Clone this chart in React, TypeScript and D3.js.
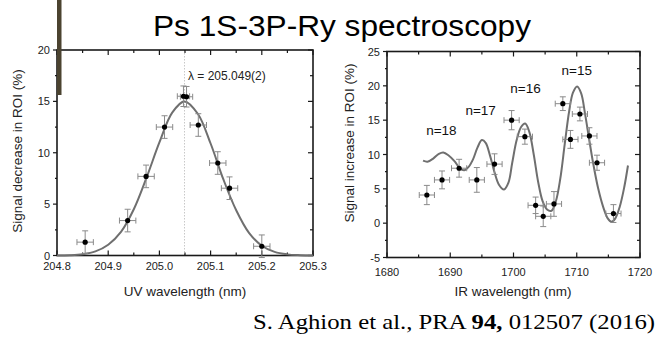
import React from "react";
import * as d3 from "d3";

// ---------- Left panel data (UV scan) ----------
const uvLambda = [204.855, 204.938, 204.974, 205.010, 205.047, 205.053, 205.076, 205.114, 205.137, 205.200];
const uvSignal = [1.3, 3.4, 7.7, 12.5, 15.5, 15.45, 12.7, 9.0, 6.55, 0.9];
const uvYErr = [1.1, 1.1, 1.1, 1.1, 1.0, 1.0, 1.1, 1.1, 1.1, 1.1];
const uvXErr = [0.016, 0.016, 0.016, 0.016, 0.012, 0.012, 0.016, 0.016, 0.016, 0.016];
const uvFitX = [204.8, 204.825, 204.85, 204.875, 204.9, 204.925, 204.95, 204.975, 205.0, 205.025, 205.049, 205.075, 205.1, 205.125, 205.15, 205.175, 205.2, 205.225, 205.25, 205.275, 205.3];
const uvFitY = [0.0, 0.03, 0.13, 0.4, 1.05, 2.3, 4.5, 7.6, 11.0, 13.9, 15.0, 13.8, 10.9, 7.4, 4.4, 2.2, 0.95, 0.35, 0.11, 0.03, 0.0];
const uvXTicks = [204.8, 204.9, 205.0, 205.1, 205.2, 205.3];
const uvYTicks = [0, 5, 10, 15, 20];
const uvCenter = 205.049;

// ---------- Right panel data (IR scan) ----------
const irLambda = [1686.3, 1688.7, 1691.4, 1694.2, 1697.0, 1699.7, 1701.8, 1703.5, 1704.7, 1706.4, 1707.8, 1709.0, 1710.5, 1712.0, 1713.2, 1715.8];
const irSignal = [4.1, 6.3, 8.0, 6.3, 8.6, 15.0, 12.6, 2.6, 1.0, 2.8, 17.4, 12.2, 15.9, 12.7, 8.8, 1.4];
const irYErr = [1.4, 1.3, 1.3, 1.8, 1.5, 1.4, 1.1, 1.2, 1.5, 1.8, 1.0, 1.3, 1.0, 1.2, 1.1, 1.3];
const irXErr = [1.2, 1.2, 1.2, 1.2, 1.2, 1.2, 1.2, 1.2, 1.2, 1.2, 1.2, 1.2, 1.2, 1.2, 1.2, 1.2];
const irFitX = [1685.7, 1686.4, 1687.3, 1688.2, 1688.9, 1689.7, 1690.7, 1691.5, 1692.2, 1692.9, 1693.6, 1694.3, 1695.0, 1695.6, 1696.3, 1697.0, 1697.7, 1698.5, 1699.2, 1699.8, 1700.5, 1701.2, 1701.85, 1702.5, 1703.2, 1703.9, 1704.6, 1705.3, 1706.0, 1706.7, 1707.4, 1708.1, 1708.8, 1709.4, 1710.06, 1710.7, 1711.3, 1712.0, 1712.6, 1713.4, 1714.2, 1714.9, 1715.5, 1716.1, 1716.8, 1717.5, 1718.1];
const irFitY = [9.1, 8.95, 9.4, 10.1, 10.3, 9.9, 9.0, 8.0, 7.7, 8.2, 9.3, 11.0, 12.1, 11.7, 9.8, 7.4, 5.6, 4.9, 5.9, 8.8, 12.1, 14.0, 14.5, 13.3, 10.0, 6.0, 3.2, 2.0, 1.8, 3.2, 6.5, 11.5, 16.3, 19.0, 19.9, 18.9, 16.0, 12.0, 8.7, 5.0, 2.3, 0.7, 0.2, 0.7, 2.4, 5.2, 8.4];
const irXTicks = [1680, 1690, 1700, 1710, 1720];
const irYTicks = [-5, 0, 5, 10, 15, 20, 25];
const nLabels = ["n=18", "n=17", "n=16", "n=15"];
const nLabelX = [1688.6, 1694.8, 1701.9, 1710.0];
const nLabelY = [12.8, 15.8, 18.9, 21.6];

const SANS = "'Liberation Sans', Arial, sans-serif";
const SERIF = "'Liberation Serif', 'Times New Roman', serif";

type PanelProps = {
  x: d3.ScaleLinear<number, number>;
  y: d3.ScaleLinear<number, number>;
  xTicks: number[];
  yTicks: number[];
  xMinor: number;
  yMinor: number;
  xFmt: (v: number) => string;
  xLabelOffset: number;
};

function Frame({ x, y, xTicks, yTicks, xMinor, yMinor, xFmt, xLabelOffset }: PanelProps) {
  const [x0, x1] = x.range();
  const [y0, y1] = y.range(); // y0 bottom, y1 top
  const [dx0, dx1] = x.domain();
  const [dy0, dy1] = y.domain();
  const xMinors = d3.range(dx0, dx1 + 1e-9, xMinor);
  const yMinors = d3.range(dy0, dy1 + 1e-9, yMinor);
  const isMajor = (v: number, ticks: number[]) => ticks.some((t) => Math.abs(t - v) < 1e-6);
  const col = "#1a1a1a";
  return (
    <g>
      {xMinors.map((v, i) => {
        const m = isMajor(v, xTicks);
        const L = m ? 5 : 3;
        return (
          <g key={"xt" + i} stroke={col} strokeWidth={1.2}>
            <line x1={x(v)} x2={x(v)} y1={y0} y2={y0 - L} />
            <line x1={x(v)} x2={x(v)} y1={y1} y2={y1 + L} />
          </g>
        );
      })}
      {yMinors.map((v, i) => {
        const m = isMajor(v, yTicks);
        const L = m ? 5 : 3;
        return (
          <g key={"yt" + i} stroke={col} strokeWidth={1.2}>
            <line x1={x0} x2={x0 - (m ? 4 : 2)} y1={y(v)} y2={y(v)} />
            <line x1={x1} x2={x1 - L} y1={y(v)} y2={y(v)} />
          </g>
        );
      })}
      <rect x={x0} y={y1} width={x1 - x0} height={y0 - y1} fill="none" stroke={col} strokeWidth={1.6} />
      {xTicks.map((v) => (
        <text key={"xl" + v} x={x(v)} y={y0 + xLabelOffset} fontSize={11} fontFamily={SANS} textAnchor="middle" fill="#222">
          {xFmt(v)}
        </text>
      ))}
      {yTicks.map((v) => (
        <text key={"yl" + v} x={x0 - 7} y={y(v) + 4} fontSize={11} fontFamily={SANS} textAnchor="end" fill="#222">
          {v}
        </text>
      ))}
    </g>
  );
}

function Points({ x, y, xs, ys, xe, ye }: { x: any; y: any; xs: number[]; ys: number[]; xe: number[]; ye: number[] }) {
  const cap = 3;
  return (
    <g>
      {xs.map((v, i) => {
        const cx = x(v);
        const cy = y(ys[i]);
        const xl = x(v - xe[i]);
        const xr = x(v + xe[i]);
        const yt = y(ys[i] + ye[i]);
        const yb = y(ys[i] - ye[i]);
        return (
          <g key={i} stroke="#8a8a8a" strokeWidth={1}>
            <line x1={cx} x2={cx} y1={yt} y2={yb} />
            <line x1={cx - cap} x2={cx + cap} y1={yt} y2={yt} />
            <line x1={cx - cap} x2={cx + cap} y1={yb} y2={yb} />
            <line x1={xl} x2={xr} y1={cy} y2={cy} />
            <line x1={xl} x2={xl} y1={cy - cap} y2={cy + cap} />
            <line x1={xr} x2={xr} y1={cy - cap} y2={cy + cap} />
          </g>
        );
      })}
      {xs.map((v, i) => (
        <circle key={"c" + i} cx={x(v)} cy={y(ys[i])} r={2.6} fill="#000" />
      ))}
    </g>
  );
}

export default function App() {
  const xL = d3.scaleLinear().domain([204.8, 205.3]).range([57, 313]);
  const yL = d3.scaleLinear().domain([0, 20]).range([255.5, 50]);
  const xR = d3.scaleLinear().domain([1680, 1720]).range([387, 640]);
  const yR = d3.scaleLinear().domain([-5, 25]).range([257.5, 51.5]);

  const lineL = d3
    .line<number>()
    .x((d, i) => xL(uvFitX[i]))
    .y((d) => yL(d))
    .curve(d3.curveCatmullRom.alpha(0.5));
  const lineR = d3
    .line<number>()
    .x((d, i) => xR(irFitX[i]))
    .y((d) => yR(d))
    .curve(d3.curveCatmullRom.alpha(0.5));

  return (
    <svg width={666} height={346} style={{ position: "absolute", left: 0, top: 0, background: "#fff" }}>
      <rect width={666} height={346} fill="#fff" />
      {/* Title */}
      <text x={342} y={36} fontSize={29} fontFamily={SANS} textAnchor="middle" fill="#000" textLength={378} lengthAdjust="spacingAndGlyphs">
        Ps 1S-3P-Ry spectroscopy
      </text>

      {/* Left panel */}
      <line x1={xL(uvCenter)} x2={xL(uvCenter)} y1={yL(0)} y2={yL(20)} stroke="#c8c8c8" strokeWidth={1} strokeDasharray="1.5,1.5" />
      <Frame x={xL} y={yL} xTicks={uvXTicks} yTicks={uvYTicks} xMinor={0.05} yMinor={2.5} xFmt={(v) => v.toFixed(1)} xLabelOffset={14.5} />
      <path d={lineL(uvFitY) || ""} fill="none" stroke="#6f6f6f" strokeWidth={2} />
      <Points x={xL} y={yL} xs={uvLambda} ys={uvSignal} xe={uvXErr} ye={uvYErr} />
      <text x={188} y={80} fontSize={12} fontFamily={SANS} fill="#222">λ = 205.049(2)</text>
      <text transform="translate(22,151) rotate(-90)" fontSize={13.5} fontFamily={SANS} textAnchor="middle" fill="#222">
        Signal decrease in ROI (%)
      </text>
      <text x={185} y={296} fontSize={13.5} fontFamily={SANS} textAnchor="middle" fill="#222">
        UV wavelength (nm)
      </text>

      {/* Right panel */}
      <Frame x={xR} y={yR} xTicks={irXTicks} yTicks={irYTicks} xMinor={5} yMinor={2.5} xFmt={(v) => String(v)} xLabelOffset={18} />
      <path d={lineR(irFitY) || ""} fill="none" stroke="#6f6f6f" strokeWidth={2} />
      <Points x={xR} y={yR} xs={irLambda} ys={irSignal} xe={irXErr} ye={irYErr} />
      {nLabels.map((t, i) => (
        <text key={t} x={xR(nLabelX[i])} y={yR(nLabelY[i])} fontSize={13.5} fontFamily={SANS} textAnchor="middle" fill="#111">
          {t}
        </text>
      ))}
      <text transform="translate(354,143) rotate(-90)" fontSize={13.5} fontFamily={SANS} textAnchor="middle" fill="#222">
        Signal increase in ROI (%)
      </text>
      <text x={513} y={296} fontSize={13.5} fontFamily={SANS} textAnchor="middle" fill="#222">
        IR wavelength (nm)
      </text>

      {/* Slide decoration bar */}
      <rect x={57} y={0} width={4.5} height={95} fill="#4b4330" />

      {/* Citation */}
      <text x={253} y={329} fontSize={22} fontFamily={SERIF} fill="#000" textLength={402} lengthAdjust="spacingAndGlyphs">
        S. Aghion et al., PRA <tspan fontWeight="bold">94,</tspan> 012507 (2016)
      </text>
    </svg>
  );
}
